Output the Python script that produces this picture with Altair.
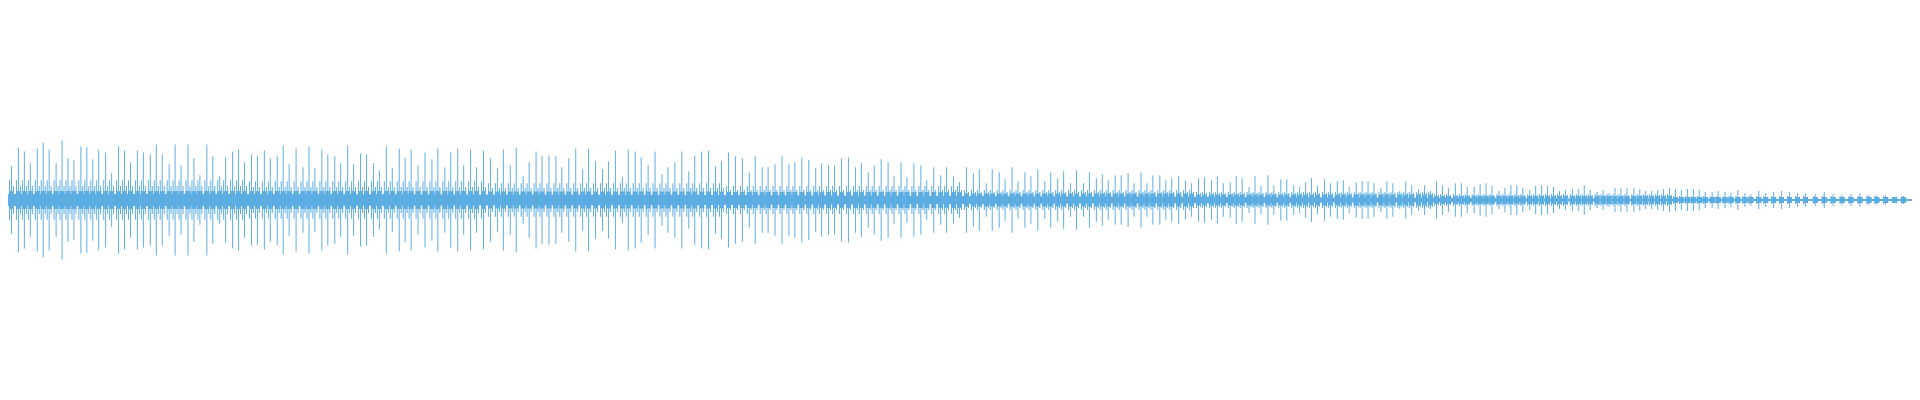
import altair as alt
import pandas as pd

# Spike onsets (horizontal position in reference pixels) and peak amplitudes, per segment
onset_1 = [3.3, 10.3, 16.3, 22.3, 29.3, 35.3, 41.3, 48, 54.3, 60.7, 66.7, 73.3, 79.3, 85.7, 91.7, 98,
           104.7, 111.3, 117.3, 123.7, 130, 136.3, 143.3, 149, 155.3, 162, 168.3, 174.7, 181.3, 187.7,
           193.7, 200.3, 206.7, 213, 219.3, 226.3, 232.3, 238.7]
peak_1 = [34, 53, 49, 37, 52, 58, 51, 37, 60, 42, 40, 54, 53, 41, 51, 48, 27, 54, 50, 38,
          50, 48, 46, 56, 46, 36, 56, 35, 56, 42, 25, 56, 44, 24, 43, 49, 51, 38]

onset_2 = [245.3, 251.3, 258.3, 264.3, 271.3, 277.3, 283.7, 290.3, 297, 303.3, 309.7, 316.3, 322.3,
           329, 335.3, 342, 348.7, 355.3, 361.3, 368, 374.3, 381.3, 387.7, 394, 400.3, 406.7, 413.3,
           420.3, 427, 433.3, 440, 446, 453.3, 459.7, 466.3, 472.3, 479.3]
peak_2 = [46, 45, 50, 42, 45, 55, 36, 52, 33, 54, 32, 51, 46, 44, 37, 55, 36, 47, 46, 37,
          30, 54, 32, 52, 42, 51, 35, 48, 41, 52, 33, 48, 52, 35, 51, 33, 50]

onset_3 = [486.3, 493, 499.3, 506, 512.3, 519, 525.3, 532.3, 538.7, 545.3, 552, 558.7, 565.3, 572.3,
           579, 585.3, 592, 599, 605.3, 612.3, 619, 625.3, 632, 638.7, 645.3, 652.3, 659, 665.7,
           672.7, 679.3, 686, 692.7, 699.3, 706.3, 713.3, 719.3]
peak_3 = [42, 32, 51, 35, 53, 24, 38, 49, 44, 45, 44, 33, 42, 52, 31, 52, 39, 31, 39, 50,
          23, 51, 49, 43, 35, 49, 26, 33, 38, 49, 29, 45, 49, 50, 34, 39]

onset_4 = [726.3, 733.3, 740.3, 747, 753.3, 760, 766.3, 773.3, 780.3, 787.3, 793.7, 800.3, 807.3,
           814, 820.7, 827.3, 833.7, 840.3, 847, 854.3, 860.7, 867, 873.7, 880.3, 887.3, 893.7,
           900.3, 906.7, 913.3, 920.3, 926.7, 933.3, 940, 946.3, 953.3, 959.3]
peak_4 = [48, 44, 42, 28, 44, 33, 33, 36, 44, 36, 38, 43, 40, 32, 37, 35, 35, 42, 43, 33,
          37, 28, 35, 41, 38, 24, 38, 23, 37, 35, 20, 33, 25, 33, 24, 18]

onset_5 = [966.3, 973.3, 979.3, 986, 992.3, 999.3, 1005.7, 1012.3, 1018.7, 1025.3, 1031.7, 1038.3,
           1045, 1051.7, 1058.3, 1064.3, 1071, 1077.3, 1084, 1090.3, 1097, 1103.3, 1109.7, 1116.3,
           1122.7, 1129.3, 1135.7, 1142.3, 1148.7, 1154.7, 1161, 1167.7, 1173.7, 1180.3, 1187, 1193.3]
peak_5 = [33, 27, 31, 17, 31, 28, 21, 33, 19, 28, 24, 31, 19, 28, 22, 29, 17, 30, 17, 28,
          22, 26, 20, 25, 25, 27, 17, 28, 17, 25, 25, 20, 22, 24, 20, 17]

onset_6 = [1200.3, 1206.3, 1213.3, 1219.3, 1225.7, 1232.3, 1238.3, 1244.7, 1251, 1257.3, 1263.7,
           1270.3, 1276.7, 1283.3, 1289.3, 1296, 1302.3, 1308, 1314.3, 1320.7, 1327, 1333.3, 1340,
           1346.3, 1352.7, 1359.3, 1365.3, 1371.7, 1377.7, 1384, 1390.3, 1396.7, 1403, 1409.3,
           1415.7, 1422, 1428.3, 1434]
peak_6 = [22, 23, 20, 24, 17, 18, 24, 22, 13, 24, 14, 25, 15, 21, 21, 15, 13, 18, 22, 14,
          21, 17, 19, 20, 13, 18, 19, 19, 17, 12, 19, 17, 9, 19, 15, 11, 15, 9]

onset_7 = [1440.7, 1446.3, 1452.7, 1459, 1465.3, 1471.7, 1478, 1484.3, 1490.3, 1496.7, 1503.3,
           1509.3, 1515.7, 1521.7, 1527.7, 1534, 1540, 1546.7, 1552.7, 1558.7, 1564.7, 1570.7, 1577,
           1583.3, 1589.3, 1595.7, 1602, 1608, 1614.3, 1620.3, 1626.7, 1632.7, 1639, 1645, 1651,
           1657, 1663.3, 1669.7, 1675.7]
peak_7 = [19, 15, 12, 17, 17, 13, 13, 16, 17, 14, 9, 12, 15, 15, 12, 10, 14, 15, 14, 13,
          9, 10, 11, 11, 15, 10, 8, 10, 7, 12, 12, 12, 12, 11, 9, 9, 10, 11, 12]

onset_8 = [1681.3, 1687.3, 1693.3, 1699.3, 1705.3, 1711.7, 1718, 1724.3, 1731, 1737.3, 1744.3,
           1751, 1757.7, 1765, 1772.7, 1780, 1788, 1796.3, 1804.7, 1812.7, 1822, 1831.3, 1840.3,
           1849.7, 1858.3, 1867, 1876, 1884.7, 1893.7, 1902.7, 1911.3]
peak_8 = [11, 10, 11, 11, 10, 8, 8, 9, 8, 7, 10, 7, 6, 9, 7, 8, 9, 8, 7, 7,
          6, 8, 6, 5, 6, 7, 5, 5, 5, 3, 4]

# Envelope of the dense body and of the medium bursts around each spike, per segment
env_t = [0, 240, 480, 720, 960, 1200, 1440, 1680, 1920]
body_env = [6, 6, 5.5, 5, 4, 3.2, 2.2, 1.2, 1]
bump_seg = [9, 9, 8.5, 8, 6.5, 5.5, 4, 3]
shoulder_a_seg = [20, 19, 17, 14, 10, 8, 6, 4]
shoulder_b_seg = [14, 13, 12, 10, 8, 7, 5, 3]

COLOR = "#5dade2"

onsets = [onset_1, onset_2, onset_3, onset_4, onset_5, onset_6, onset_7, onset_8]
peaks = [peak_1, peak_2, peak_3, peak_4, peak_5, peak_6, peak_7, peak_8]
rows = []
for s, (ts, ps) in enumerate(zip(onsets, peaks)):
    for t, p in zip(ts, ps):
        rows.append({"t": t, "amp": p, "bump": min(bump_seg[s], p),
                     "sa": min(shoulder_a_seg[s], p), "sb": min(shoulder_b_seg[s], p)})
spikes = pd.DataFrame(rows)
body = pd.DataFrame({"t": env_t, "amp": body_env})

xs = alt.Scale(domain=[8, 1912], nice=False, zero=False)
ys = alt.Scale(domain=[-192, 192], nice=False, zero=False)

body_layer = alt.Chart(body).transform_calculate(
    neg="-datum.amp"
).mark_area(color=COLOR, opacity=1).encode(
    x=alt.X("t:Q", scale=xs, axis=None),
    y=alt.Y("amp:Q", scale=ys, axis=None),
    y2="neg:Q",
)

base = alt.Chart(spikes)


def bar_layer(left, right, field):
    return base.transform_calculate(
        x0=f"floor(datum.t) + ({left})", x1=f"floor(datum.t) + ({right})",
        top=f"datum.{field}", bot=f"-datum.{field}"
    ).mark_rect(color=COLOR).encode(
        x=alt.X("x0:Q", scale=xs, axis=None), x2="x1:Q",
        y=alt.Y("top:Q", scale=ys, axis=None), y2="bot:Q",
    )


bump_layer = bar_layer(-2, 3, "bump")
shoulder_a = bar_layer(-2, -1, "sa")
shoulder_b = bar_layer(2, 3, "sb")
peak_layer = bar_layer(0, 1, "amp")

chart = alt.layer(body_layer, bump_layer, shoulder_a, shoulder_b, peak_layer).properties(
    width=1904, height=384, padding=0
).configure_view(strokeWidth=0)

chart.save("out.html", embed_options={"renderer": "svg", "actions": False})
